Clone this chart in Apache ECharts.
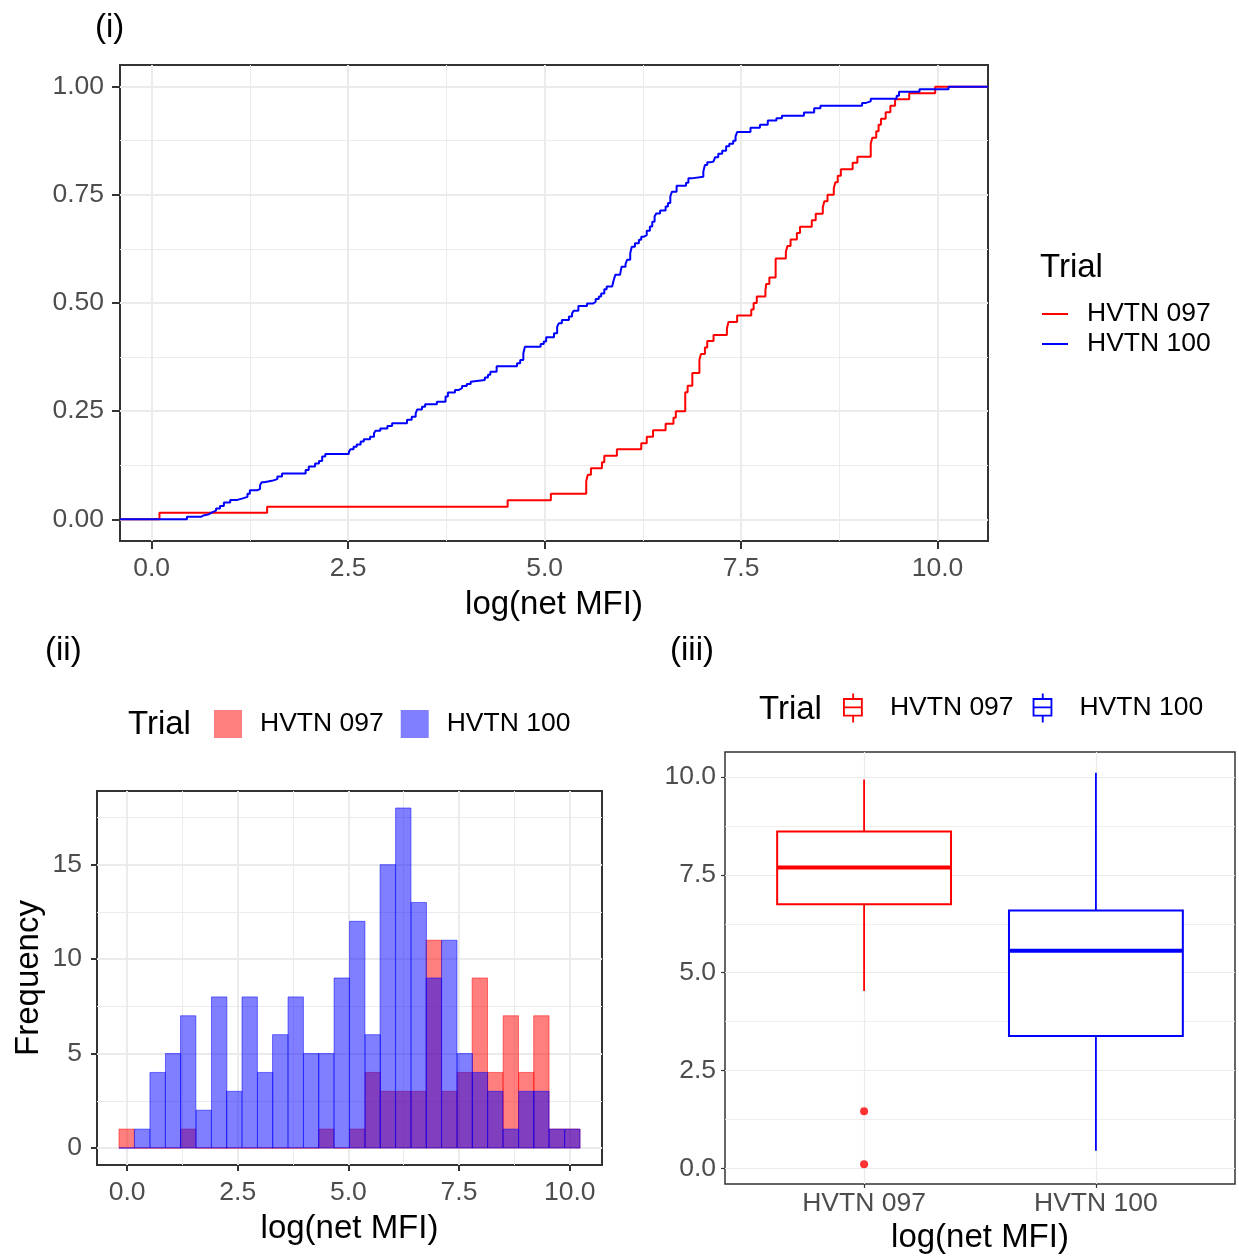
<!DOCTYPE html>
<html>
<head>
<meta charset="utf-8">
<title>log(net MFI) by trial</title>
<script src="https://cdn.jsdelivr.net/npm/echarts@6/dist/echarts.min.js"></script>
<style>
  html, body { margin: 0; padding: 0; background: #fff; }
  #chart { width: 1239px; height: 1256px; }
</style>
</head>
<body>
<div id="chart"></div>
<script>
const FONT = 'Liberation Sans, Arial, Helvetica, sans-serif'

const trials = ['HVTN 097', 'HVTN 100']

// (i) empirical CDF: where each step happens and the level it rises to
const ecdf097X = [0.10, 1.47, 4.53, 5.08, 5.53, 5.55, 5.59, 5.73, 5.76, 5.92,
  6.23, 6.30, 6.38, 6.54, 6.64, 6.67, 6.79, 6.82, 6.88, 6.97,
  6.99, 7.04, 7.07, 7.15, 7.32, 7.34, 7.45, 7.63, 7.66, 7.70,
  7.81, 7.82, 7.86, 7.94, 8.07, 8.09, 8.13, 8.21, 8.25, 8.40,
  8.45, 8.54, 8.56, 8.60, 8.68, 8.70, 8.73, 8.77, 8.92, 8.98,
  9.15, 9.17, 9.22, 9.25, 9.28, 9.34, 9.40, 9.46, 9.64, 9.97]
const ecdf097Y = [0.015, 0.029, 0.044, 0.059, 0.088, 0.103, 0.118, 0.132, 0.147, 0.162,
  0.176, 0.191, 0.206, 0.221, 0.235, 0.250, 0.294, 0.309, 0.338, 0.368,
  0.382, 0.397, 0.412, 0.426, 0.441, 0.456, 0.471, 0.485, 0.500, 0.515,
  0.529, 0.544, 0.559, 0.603, 0.618, 0.632, 0.647, 0.662, 0.676, 0.691,
  0.706, 0.721, 0.735, 0.750, 0.765, 0.779, 0.794, 0.809, 0.824, 0.838,
  0.868, 0.882, 0.897, 0.912, 0.926, 0.941, 0.956, 0.971, 0.985, 1.000]

const ecdf100X = [0.45, 0.63, 0.66, 0.73, 0.77, 0.82, 0.87, 0.92, 1.00, 1.09,
  1.15, 1.22, 1.25, 1.34, 1.38, 1.40, 1.43, 1.53, 1.60, 1.66,
  1.96, 2.00, 2.08, 2.13, 2.17, 2.21, 2.51, 2.53, 2.57, 2.61,
  2.66, 2.70, 2.78, 2.83, 2.85, 2.91, 3.00, 3.06, 3.25, 3.31,
  3.36, 3.38, 3.44, 3.48, 3.63, 3.74, 3.77, 3.86, 3.91, 3.95,
  4.01, 4.06, 4.07, 4.24, 4.28, 4.31, 4.39, 4.65, 4.69, 4.73,
  4.75, 4.95, 4.99, 5.02, 5.12, 5.16, 5.18, 5.22, 5.31, 5.35,
  5.37, 5.43, 5.54, 5.62, 5.65, 5.69, 5.72, 5.76, 5.79, 5.86,
  5.88, 5.90, 5.96, 5.98, 6.03, 6.05, 6.09, 6.11, 6.15, 6.20,
  6.23, 6.26, 6.30, 6.34, 6.37, 6.40, 6.42, 6.47, 6.54, 6.57,
  6.60, 6.62, 6.68, 6.80, 6.83, 6.87, 7.02, 7.04, 7.07, 7.11,
  7.15, 7.17, 7.21, 7.26, 7.31, 7.35, 7.40, 7.43, 7.45, 7.62,
  7.74, 7.84, 7.95, 8.02, 8.30, 8.43, 8.51, 9.04, 9.08, 9.15,
  9.48, 9.51, 9.77, 10.14]
const ecdf100Y = [0.006, 0.009, 0.012, 0.016, 0.020, 0.025, 0.031, 0.039, 0.045, 0.048,
  0.052, 0.059, 0.067, 0.070, 0.079, 0.086, 0.089, 0.093, 0.099, 0.106,
  0.114, 0.122, 0.129, 0.135, 0.145, 0.151, 0.156, 0.162, 0.168, 0.173,
  0.180, 0.185, 0.191, 0.199, 0.205, 0.210, 0.216, 0.222, 0.230, 0.237,
  0.245, 0.254, 0.260, 0.266, 0.272, 0.284, 0.293, 0.299, 0.303, 0.308,
  0.313, 0.318, 0.322, 0.328, 0.334, 0.341, 0.354, 0.361, 0.368, 0.384,
  0.399, 0.405, 0.411, 0.421, 0.430, 0.445, 0.453, 0.461, 0.469, 0.476,
  0.482, 0.493, 0.499, 0.503, 0.509, 0.515, 0.522, 0.532, 0.538, 0.542,
  0.553, 0.565, 0.569, 0.584, 0.590, 0.600, 0.615, 0.630, 0.638, 0.646,
  0.653, 0.657, 0.667, 0.677, 0.688, 0.700, 0.707, 0.714, 0.723, 0.731,
  0.746, 0.757, 0.771, 0.778, 0.788, 0.792, 0.804, 0.819, 0.825, 0.827,
  0.831, 0.837, 0.845, 0.852, 0.862, 0.868, 0.875, 0.885, 0.895, 0.905,
  0.912, 0.922, 0.927, 0.933, 0.940, 0.950, 0.956, 0.962, 0.966, 0.972,
  0.979, 0.988, 0.994, 1.000]

// (ii) histogram, 30 bins
const binMids = [-0.01, 0.34, 0.69, 1.04, 1.38, 1.73, 2.08, 2.42, 2.77, 3.12,
  3.46, 3.81, 4.16, 4.50, 4.85, 5.20, 5.55, 5.89, 6.24, 6.59,
  6.93, 7.28, 7.63, 7.97, 8.32, 8.67, 9.02, 9.36, 9.71, 10.06]
const binWidth = 0.347
const hist097 = [1, 0, 0, 0, 1, 0, 0, 0, 0, 0, 0, 0, 0, 1, 0, 1, 4, 3, 3, 3, 11, 3, 4, 9, 4, 7, 4, 7, 1, 1]
const hist100 = [0, 1, 4, 5, 7, 2, 8, 3, 8, 4, 6, 8, 5, 5, 9, 12, 6, 15, 18, 13, 9, 11, 5, 4, 3, 1, 3, 3, 1, 1]

// (iii) boxplot: lower whisker, q1, median, q3, upper whisker
const box097 = [4.53, 6.75, 7.69, 8.61, 9.94]
const box100 = [0.45, 3.38, 5.56, 6.59, 10.11]
const outliers097 = [1.46, 0.10]
const boxWidth = 0.75

const ecdfTicks = [0, 0.25, 0.5, 0.75, 1]
const ecdfMinor = [0.125, 0.375, 0.625, 0.875]
const mfiTicks = [0, 2.5, 5, 7.5, 10]
const mfiMinor = [1.25, 3.75, 6.25, 8.75]
const freqTicks = [0, 5, 10, 15]
const freqMinor = [2.5, 7.5, 12.5, 17.5]

const mfiMin = -0.402, mfiMax = 10.642

function majorAxis(o) {
  return {
    type: 'value', gridIndex: o.grid, min: o.min, max: o.max,
    axisLine: { show: false, onZero: false },
    axisTick: {
      show: true, customValues: o.ticks, length: o.tickLen || 8,
      lineStyle: { color: '#333333', width: o.tickW || 2 }
    },
    axisLabel: {
      customValues: o.ticks, formatter: o.fmt, margin: o.margin,
      color: '#4D4D4D', fontSize: 26.5, fontFamily: FONT
    },
    splitLine: { show: true, lineStyle: { color: '#EBEBEB', width: o.gridW || 2 } },
    name: o.name || '', nameLocation: 'middle', nameGap: o.nameGap || 0,
    nameRotate: o.nameRotate || 0, nameMoveOverlap: false,
    nameTextStyle: { color: '#000000', fontSize: 33, fontFamily: FONT }
  }
}

function minorAxis(grid, min, max, vals, w) {
  return {
    type: 'value', gridIndex: grid, min: min, max: max,
    axisLine: { show: false, onZero: false },
    axisTick: { show: false, customValues: vals },
    axisLabel: { show: false, customValues: vals },
    splitLine: { show: true, lineStyle: { color: '#EBEBEB', width: w } }
  }
}

function ecdfData(xs, ys) {
  return [[mfiMin, 0]].concat(xs.map((x, i) => [x, ys[i]]), [[mfiMax, 1]])
}

function histItem(params, api) {
  const mid = api.value(0)
  const n = api.value(1)
  const a = api.coord([mid - binWidth / 2, n])
  const b = api.coord([mid + binWidth / 2, 0])
  const c = api.visual('color')
  return {
    type: 'rect',
    shape: { x: a[0], y: a[1], width: b[0] - a[0], height: b[1] - a[1] },
    style: { fill: c, stroke: c, lineWidth: 1 }
  }
}

function boxItem(params, api) {
  const x = api.value(0)
  const lo = api.value(1), q1 = api.value(2), med = api.value(3), q3 = api.value(4), hi = api.value(5)
  const c = api.visual('color')
  const h = boxWidth / 2
  const top = api.coord([x, hi]), upper = api.coord([x, q3])
  const lower = api.coord([x, q1]), bottom = api.coord([x, lo])
  const tl = api.coord([x - h, q3]), br = api.coord([x + h, q1])
  const ml = api.coord([x - h, med]), mr = api.coord([x + h, med])
  return {
    type: 'group',
    children: [
      { type: 'line', shape: { x1: top[0], y1: top[1], x2: upper[0], y2: upper[1] }, style: { stroke: c, lineWidth: 1.8 } },
      { type: 'line', shape: { x1: lower[0], y1: lower[1], x2: bottom[0], y2: bottom[1] }, style: { stroke: c, lineWidth: 1.8 } },
      { type: 'rect', shape: { x: tl[0], y: tl[1], width: br[0] - tl[0], height: br[1] - tl[1] }, style: { fill: '#FFFFFF', stroke: c, lineWidth: 2 } },
      { type: 'line', shape: { x1: ml[0], y1: ml[1], x2: mr[0], y2: mr[1] }, style: { stroke: c, lineWidth: 4 } }
    ]
  }
}

const boxIcon = 'path://M7 0h1.4v3.5h-1.4Z M0 3.5h15v1.4h-15Z M0 4.9h1.4v11.2h-1.4Z M13.6 4.9h1.4v11.2h-1.4Z M1.4 9.8h12.2v1.4h-12.2Z M0 16.1h15v1.4h-15Z M7 17.5h1.4v4.5h-1.4Z'

function legendText(spacer) {
  return {
    color: '#000000', fontSize: 26.5, fontFamily: FONT, lineHeight: 30,
    rich: { s: { width: spacer } }
  }
}
const stripPrefix = name => '{s| }' + name.split(':')[1]

function panelTitle(text, left, top) {
  return {
    text: text, left: left, top: top, padding: 0,
    textStyle: { color: '#000000', fontSize: 33, fontWeight: 'normal', fontFamily: FONT, lineHeight: 38 }
  }
}

const gridBase = { show: true, backgroundColor: '#FFFFFF', borderColor: '#333333', borderWidth: 2, containLabel: false, outerBoundsMode: 'none' }

const chart = echarts.init(document.getElementById('chart'), null, { renderer: 'canvas' })

chart.setOption({
  animation: false,
  backgroundColor: '#FFFFFF',
  textStyle: { fontFamily: FONT },
  title: [
    panelTitle('(i)', 95, 9),
    panelTitle('(ii)', 45, 632),
    panelTitle('(iii)', 670, 632),
    panelTitle('Trial', 1040, 249),
    panelTitle('Trial', 128, 706),
    panelTitle('Trial', 759, 691)
  ],
  legend: [
    {
      data: ['ecdf:HVTN 097', 'ecdf:HVTN 100'], orient: 'vertical', left: 1042, top: 299,
      padding: 0, itemWidth: 26, itemHeight: 2, itemGap: 0, icon: 'rect', selectedMode: false,
      formatter: stripPrefix, textStyle: legendText(14)
    },
    {
      data: ['hist:HVTN 097', 'hist:HVTN 100'], orient: 'horizontal', left: 214, top: 709,
      padding: 0, itemWidth: 28, itemHeight: 28, itemGap: 17, icon: 'rect', selectedMode: false,
      formatter: stripPrefix, textStyle: legendText(13)
    },
    {
      data: [{ name: 'box:HVTN 097', icon: boxIcon }, { name: 'box:HVTN 100', icon: boxIcon }],
      orient: 'horizontal', left: 843, top: 693,
      padding: 0, itemWidth: 20, itemHeight: 29, itemGap: 19, selectedMode: false,
      formatter: stripPrefix, textStyle: legendText(22)
    }
  ],
  grid: [
    Object.assign({ left: 120, top: 65, width: 868, height: 476 }, gridBase),
    Object.assign({ left: 97, top: 791, width: 505, height: 374 }, gridBase),
    Object.assign({ left: 725, top: 752, width: 510, height: 432 }, gridBase, { borderWidth: 1.5 })
  ],
  xAxis: [
    majorAxis({ grid: 0, min: mfiMin, max: mfiMax, ticks: mfiTicks, fmt: v => v.toFixed(1), margin: 14,
      name: 'log(net MFI)', nameGap: 47 }),
    minorAxis(0, mfiMin, mfiMax, mfiMinor, 1),
    majorAxis({ grid: 1, min: -0.68, max: 10.73, ticks: mfiTicks, fmt: v => v.toFixed(1), margin: 14,
      tickLen: 6, name: 'log(net MFI)', nameGap: 47 }),
    minorAxis(1, -0.68, 10.73, mfiMinor, 1),
    majorAxis({ grid: 2, min: 0.4, max: 2.6, ticks: [1, 2], fmt: v => trials[Math.round(v) - 1], margin: 6,
      tickLen: 4, tickW: 1.2, gridW: 1.2, name: 'log(net MFI)', nameGap: 37 })
  ],
  yAxis: [
    majorAxis({ grid: 0, min: -0.05, max: 1.05, ticks: ecdfTicks, fmt: v => v.toFixed(2), margin: 16 }),
    minorAxis(0, -0.05, 1.05, ecdfMinor, 1),
    majorAxis({ grid: 1, min: -0.9, max: 18.9, ticks: freqTicks, fmt: v => String(v), margin: 15,
      tickLen: 6, name: 'Frequency', nameGap: 52, nameRotate: 90 }),
    minorAxis(1, -0.9, 18.9, freqMinor, 1),
    majorAxis({ grid: 2, min: mfiMin, max: mfiMax, ticks: mfiTicks, fmt: v => v.toFixed(1), margin: 9,
      tickLen: 4, tickW: 1.2, gridW: 1.2 }),
    minorAxis(2, mfiMin, mfiMax, mfiMinor, 0.8)
  ],
  series: [
    {
      name: 'ecdf:HVTN 097', type: 'line', xAxisIndex: 0, yAxisIndex: 0, step: 'end',
      symbol: 'none', showSymbol: false, z: 3,
      itemStyle: { color: '#FF0000' }, lineStyle: { color: '#FF0000', width: 2 },
      data: ecdfData(ecdf097X, ecdf097Y)
    },
    {
      name: 'ecdf:HVTN 100', type: 'line', xAxisIndex: 0, yAxisIndex: 0, step: 'end',
      symbol: 'none', showSymbol: false, z: 4,
      itemStyle: { color: '#0000FF' }, lineStyle: { color: '#0000FF', width: 2 },
      data: ecdfData(ecdf100X, ecdf100Y)
    },
    {
      name: 'hist:HVTN 097', type: 'custom', xAxisIndex: 2, yAxisIndex: 2, z: 3,
      itemStyle: { color: 'rgba(255,0,0,0.5)' }, renderItem: histItem,
      encode: { x: 0, y: 1 },
      data: binMids.map((m, i) => [m, hist097[i]])
    },
    {
      name: 'hist:HVTN 100', type: 'custom', xAxisIndex: 2, yAxisIndex: 2, z: 4,
      itemStyle: { color: 'rgba(0,0,255,0.5)' }, renderItem: histItem,
      encode: { x: 0, y: 1 },
      data: binMids.map((m, i) => [m, hist100[i]])
    },
    {
      name: 'box:HVTN 097', type: 'custom', xAxisIndex: 4, yAxisIndex: 4, z: 3,
      itemStyle: { color: '#FF0000' }, renderItem: boxItem,
      encode: { x: 0, y: [1, 2, 3, 4, 5] },
      data: [[1].concat(box097)]
    },
    {
      name: 'box:HVTN 100', type: 'custom', xAxisIndex: 4, yAxisIndex: 4, z: 3,
      itemStyle: { color: '#0000FF' }, renderItem: boxItem,
      encode: { x: 0, y: [1, 2, 3, 4, 5] },
      data: [[2].concat(box100)]
    },
    {
      name: 'outliers:HVTN 097', type: 'scatter', xAxisIndex: 4, yAxisIndex: 4, z: 5,
      symbolSize: 8, itemStyle: { color: '#FF0000' },
      data: outliers097.map(v => [1, v])
    }
  ]
})
</script>
</body>
</html>
